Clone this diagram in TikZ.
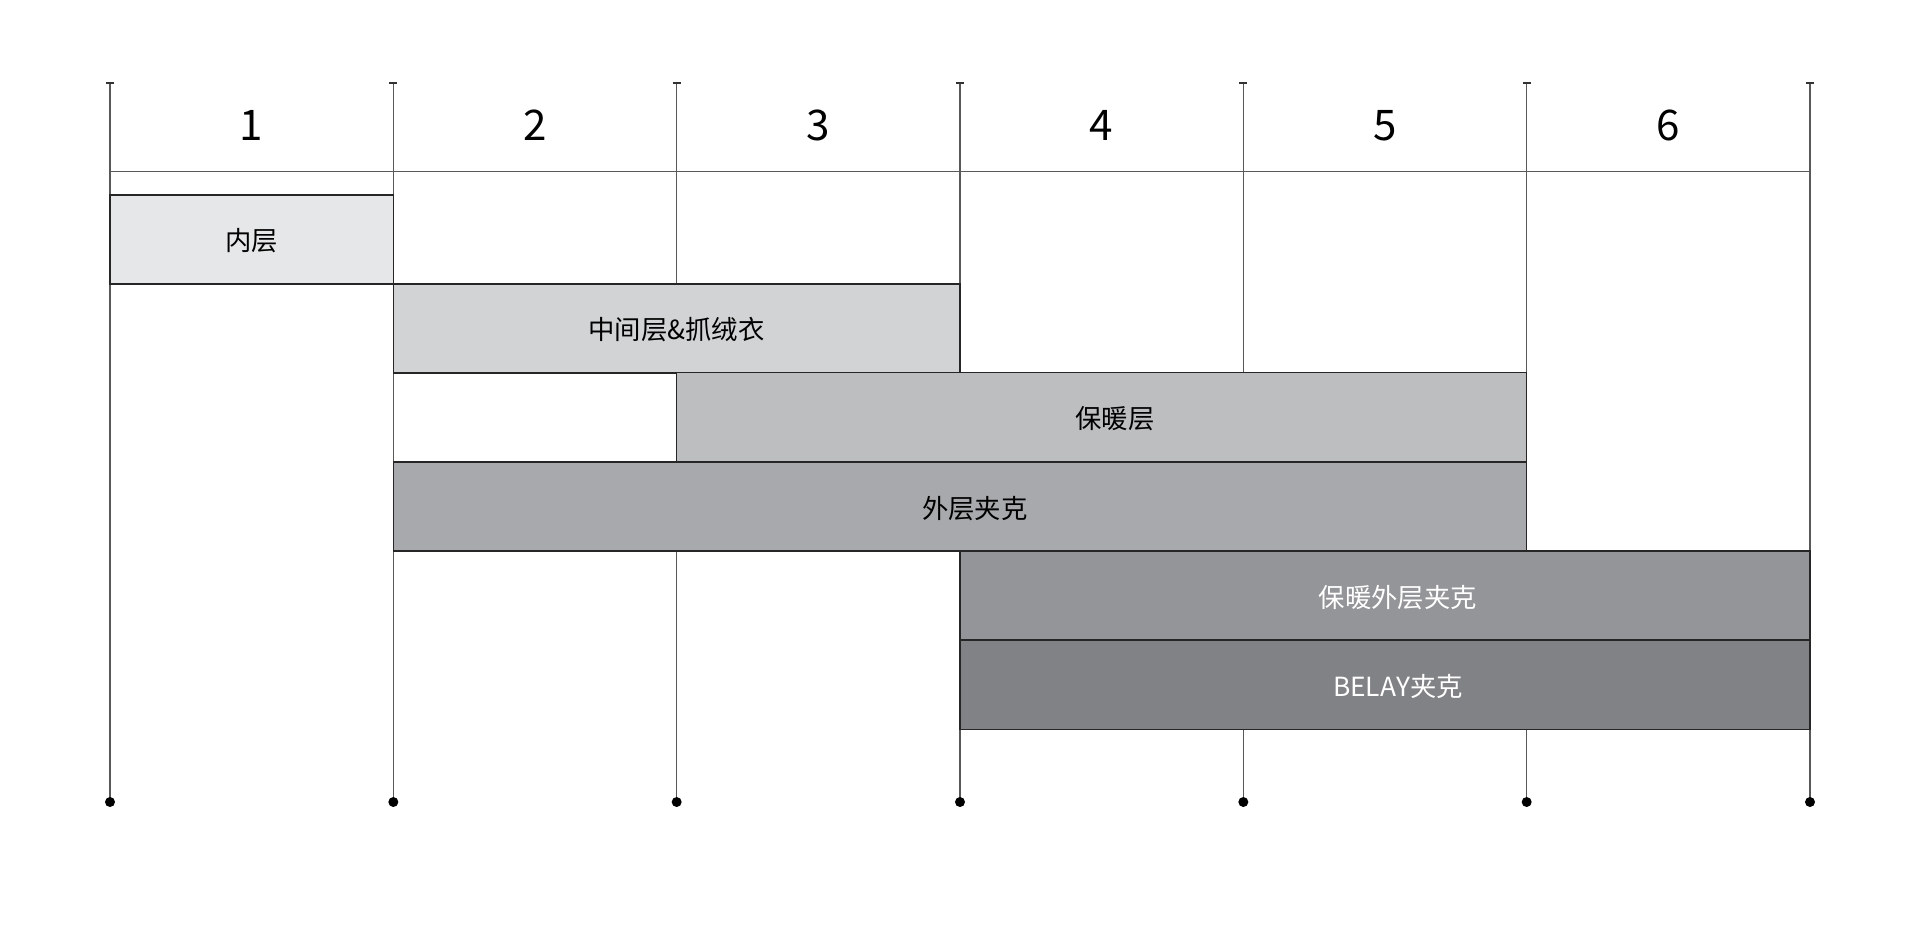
\documentclass[tikz,border=0pt]{standalone}
\usepackage{fontspec}
\setmainfont{Noto Sans CJK SC}
\definecolor{layerA}{HTML}{E6E7E8}
\definecolor{layerB}{HTML}{D1D3D4}
\definecolor{layerC}{HTML}{BCBEC0}
\definecolor{layerD}{HTML}{A7A9AC}
\definecolor{layerE}{HTML}{939598}
\definecolor{layerF}{HTML}{808285}
\tikzset{
  gridline/.style={line width=0.7pt, color=black!65},
  tickmark/.style={line width=1.1pt, color=black!80},
  colnum/.style={font=\fontsize{24}{27}\selectfont},
  layerbox/.style={draw=black!85, line width=0.9pt, anchor=north west, inner sep=0pt, outer sep=0pt,
    minimum height=1.784cm},
  layertext/.style={font=\fontsize{15}{18}\selectfont, inner sep=0pt},
}

\begin{document}
\begin{tikzpicture}[x=0.02cm, y=-0.02cm]
			%%%%% START %%%%%
			\useasboundingbox (0,0) rectangle (1920,944);
			
			% columns
			\foreach \i in {0,...,6} {
				\coordinate (top\i) at ({110+283.333*\i}, 83.3);
				\coordinate (bot\i) at ({110+283.333*\i}, 802);
				\draw[gridline] (top\i) -- (bot\i);
				\draw[tickmark] ([xshift=-0.08cm]top\i) -- ([xshift=0.08cm]top\i);
				\fill[black] (bot\i) circle (0.1cm);
			}
			
			\coordinate (headl) at (110, 171.7);
			\coordinate (headr) at (1810, 171.7);
			\draw[gridline] (headl) -- (headr);
			
			\foreach \n in {1,...,6}
				\node[colnum] (num\n) at ({110+283.333*(\n-0.5)}, 125.5) {\n};
			
			% layers
			\node[layerbox, fill=layerA, minimum width=5.667cm] (inner) at (110, 195) {};
			\node[layerbox, fill=layerB, minimum width=11.333cm] (mid) at (393.333, 284) {};
			\node[layerbox, fill=layerC, minimum width=17cm] (warm) at (676.667, 372.5) {};
			\node[layerbox, fill=layerD, minimum width=22.667cm] (shell) at (393.333, 462) {};
			\node[layerbox, fill=layerE, minimum width=17cm] (warmshell) at (960, 551) {};
			\node[layerbox, fill=layerF, minimum width=17cm] (belay) at (960, 640.5) {};
			
			\node[layertext] (innerlbl) at ([yshift=-0.03cm]inner.center) {内层};
			\node[layertext] (midlbl) at ([yshift=-0.03cm]mid.center) {中间层\&抓绒衣};
			\node[layertext] (warmlbl) at ([xshift=0.27cm, yshift=-0.035cm]warm.center) {保暖层};
			\node[layertext] (shelllbl) at ([xshift=0.3cm, yshift=-0.04cm]shell.center) {外层夹克};
			\node[layertext, text=white] (warmshelllbl) at ([xshift=0.26cm, yshift=-0.035cm]warmshell.center) {保暖外层夹克};
			\node[layertext, text=white] (belaylbl) at ([xshift=0.26cm, yshift=-0.035cm]belay.center) {BELAY夹克};
			
			%%%%% END %%%%%
\end{tikzpicture}
\end{document}
